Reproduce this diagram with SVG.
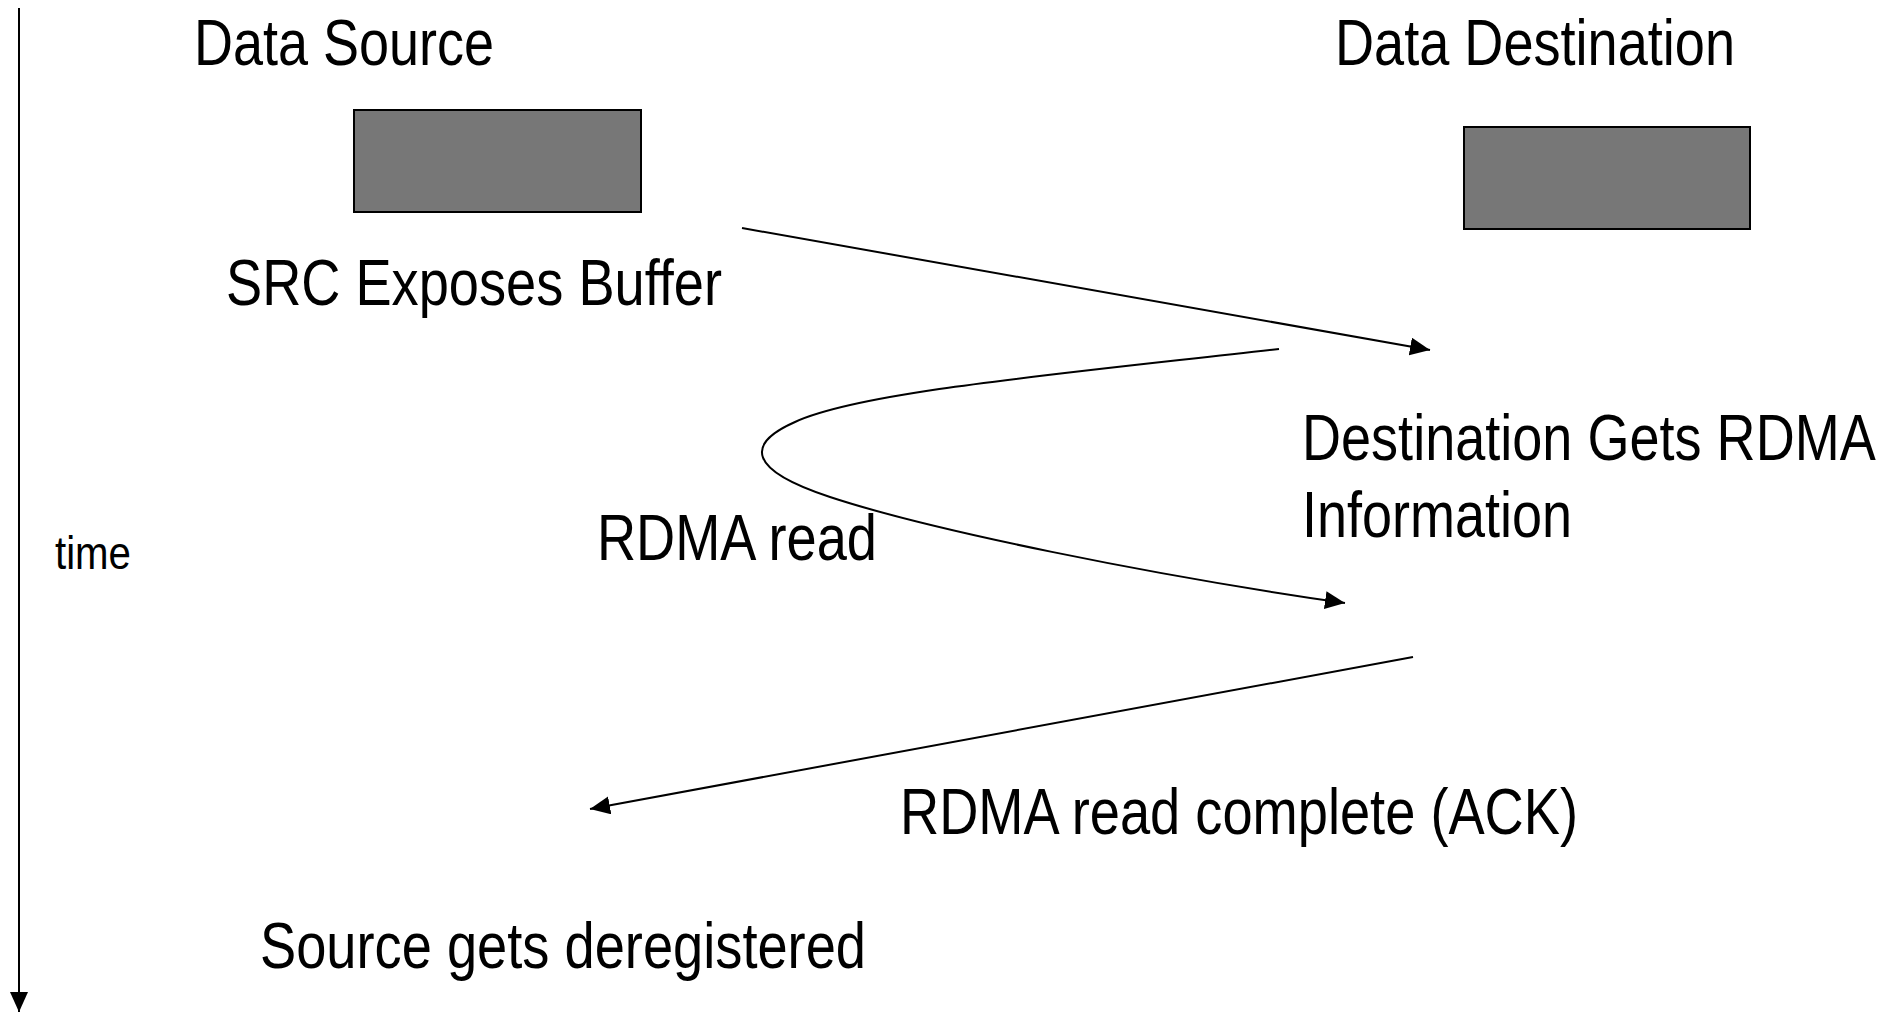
<svg xmlns="http://www.w3.org/2000/svg" width="1900" height="1013" viewBox="0 0 1900 1013">
  <style>
    .lbl { font-family: "Liberation Sans Narrow", "Liberation Sans", Arial, sans-serif; font-size: 64px; fill: #000; }
    .small { font-size: 46px; }
    .buf { fill: #777777; stroke: #000; stroke-width: 2; }
    .conn { fill: none; stroke: #000; stroke-width: 2; }
  </style>
  <defs>
    <marker id="head" markerUnits="userSpaceOnUse" markerWidth="22" markerHeight="20" refX="20" refY="9" orient="auto">
      <path d="M0,0 L20,9 L0,18 z" fill="#000"/>
    </marker>
  </defs>
  <rect width="1900" height="1013" fill="#fff"/>

  <!-- time axis -->
  <g id="time-axis">
    <line class="conn" x1="19" y1="8" x2="19" y2="1012" marker-end="url(#head)"/>
    <text class="lbl small" x="55" y="569" textLength="76" lengthAdjust="spacingAndGlyphs">time</text>
  </g>

  <!-- source side -->
  <g id="data-source">
    <text class="lbl" x="194" y="65" textLength="300" lengthAdjust="spacingAndGlyphs">Data Source</text>
    <rect class="buf" x="354" y="110" width="287" height="102"/>
  </g>

  <!-- destination side -->
  <g id="data-destination">
    <text class="lbl" x="1335" y="65" textLength="400" lengthAdjust="spacingAndGlyphs">Data Destination</text>
    <rect class="buf" x="1464" y="127" width="286" height="102"/>
  </g>

  <g id="src-exposes">
    <text class="lbl" x="226" y="305" textLength="496" lengthAdjust="spacingAndGlyphs">SRC Exposes Buffer</text>
  </g>

  <g id="dest-gets-info">
    <!-- narrowed by a horizontal scale so the line stays inside the page -->
    <text class="lbl" transform="translate(1302,460) scale(0.845,1)" x="0" y="0" textLength="679" lengthAdjust="spacingAndGlyphs">Destination Gets RDMA</text>
    <text class="lbl" x="1302" y="537" textLength="270" lengthAdjust="spacingAndGlyphs">Information</text>
  </g>

  <g id="rdma-read">
    <text class="lbl" x="597" y="560" textLength="280" lengthAdjust="spacingAndGlyphs">RDMA read</text>
  </g>

  <g id="read-complete">
    <text class="lbl" x="900" y="834" textLength="678" lengthAdjust="spacingAndGlyphs">RDMA read complete (ACK)</text>
  </g>

  <g id="source-deregistered">
    <text class="lbl" x="260" y="968" textLength="606" lengthAdjust="spacingAndGlyphs">Source gets deregistered</text>
  </g>

  <!-- message flow -->
  <g id="connectors">
    <line class="conn" x1="742" y1="228" x2="1430" y2="350" marker-end="url(#head)"/>
    <path class="conn" d="M1279,349 C1050,375 860,392 795,422 C745,444 748,470 830,497 C930,530 1150,575 1345,603" marker-end="url(#head)"/>
    <line class="conn" x1="1413" y1="657" x2="590" y2="809" marker-end="url(#head)"/>
  </g>
</svg>
